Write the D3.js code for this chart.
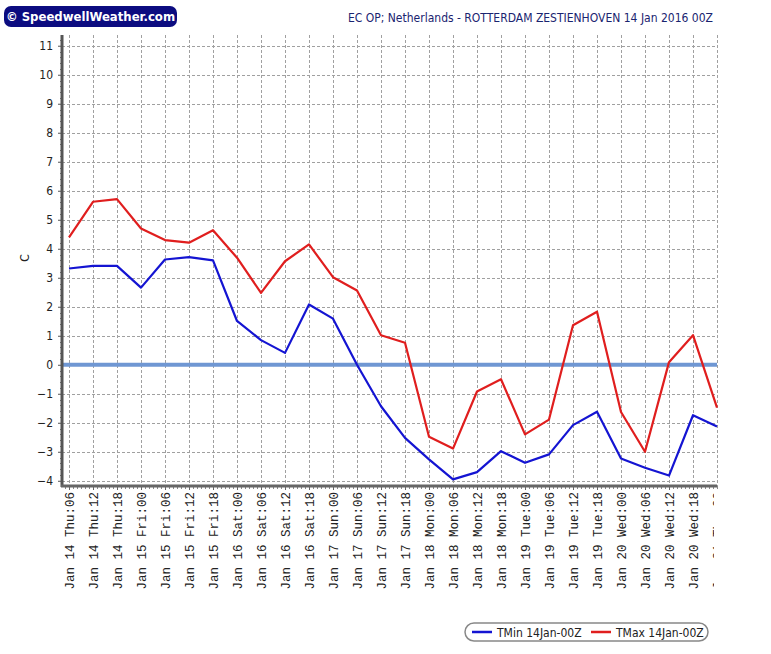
<!DOCTYPE html>
<html>
<head>
<meta charset="utf-8">
<script src="https://cdn.jsdelivr.net/npm/d3@7"></script>
<style>
body { margin: 0; background: #ffffff; }
svg { display: block; }
</style>
</head>
<body>
<div id="chart"></div>
<script>
// forecast steps (6-hourly)
var steps = [
	"Jan 14 Thu:06", "Jan 14 Thu:12", "Jan 14 Thu:18",
	"Jan 15 Fri:00", "Jan 15 Fri:06", "Jan 15 Fri:12", "Jan 15 Fri:18",
	"Jan 16 Sat:00", "Jan 16 Sat:06", "Jan 16 Sat:12", "Jan 16 Sat:18",
	"Jan 17 Sun:00", "Jan 17 Sun:06", "Jan 17 Sun:12", "Jan 17 Sun:18",
	"Jan 18 Mon:00", "Jan 18 Mon:06", "Jan 18 Mon:12", "Jan 18 Mon:18",
	"Jan 19 Tue:00", "Jan 19 Tue:06", "Jan 19 Tue:12", "Jan 19 Tue:18",
	"Jan 20 Wed:00", "Jan 20 Wed:06", "Jan 20 Wed:12", "Jan 20 Wed:18",
	"Jan 21 Thu:00"
];

var tMin = [3.32, 3.41, 3.41, 2.66, 3.63, 3.71, 3.60, 1.51, 0.85, 0.41,
	2.08, 1.59, 0.0, -1.43, -2.52, -3.26, -3.95, -3.70, -2.98,
	-3.38, -3.09, -2.08, -1.62, -3.23, -3.55, -3.82, -1.74, -2.13];

var tMax = [4.39, 5.62, 5.71, 4.70, 4.30, 4.21, 4.64, 3.69, 2.48, 3.57,
	4.15, 3.02, 2.56, 1.02, 0.76, -2.48, -2.89, -0.92, -0.50,
	-2.40, -1.89, 1.36, 1.83, -1.63, -3.0, 0.09, 1.02, -1.48];

var yTicks = [-4, -3, -2, -1, 0, 1, 2, 3, 4, 5, 6, 7, 8, 9, 10, 11];

var seriesNames = ["TMin 14Jan-00Z", "TMax 14Jan-00Z"];
var seriesColors = ["#1414d2", "#e01e1e"];

var titleText = "EC OP; Netherlands - ROTTERDAM ZESTIENHOVEN 14 Jan 2016 00Z";
var logoText = "\u00a9 SpeedwellWeather.com";

var W = 771, H = 654;
var plotLeft = 62, plotRight = 717, plotTop = 35, plotBottom = 486;
var uiFont = "'DejaVu Sans Condensed', 'DejaVu Sans', sans-serif";
var monoFont = "'Liberation Mono', 'DejaVu Sans Mono', monospace";

var svg = d3.select("#chart").append("svg")
	.attr("width", W)
	.attr("height", H)
	.attr("viewBox", "0 0 " + W + " " + H);

var x = d3.scalePoint()
	.domain(steps)
	.range([69, 717]);

var y = d3.scaleLinear()
	.domain([-4.18, 11.37])
	.range([plotBottom, plotTop]);

// logo
svg.append("rect")
	.attr("x", 4).attr("y", 6)
	.attr("width", 173).attr("height", 21)
	.attr("rx", 7)
	.attr("fill", "#0c0c80");
svg.append("text")
	.attr("x", 90.5).attr("y", 21)
	.attr("text-anchor", "middle")
	.attr("font-family", uiFont)
	.attr("font-weight", "bold")
	.attr("font-size", 13)
	.attr("fill", "#ffffff")
	.text(logoText);

// title
svg.append("text")
	.attr("x", 713).attr("y", 22)
	.attr("text-anchor", "end")
	.attr("font-family", uiFont)
	.attr("font-size", 12)
	.attr("fill", "#1a2470")
	.text(titleText);

// grid
var grid = svg.append("g")
	.attr("stroke", "#a0a0a0")
	.attr("stroke-width", 1)
	.attr("stroke-dasharray", "3,2");

grid.selectAll("line.h")
	.data(yTicks)
	.enter().append("line")
	.attr("x1", plotLeft).attr("x2", plotRight)
	.attr("y1", function(d){ return Math.round(y(d)) + 0.5; })
	.attr("y2", function(d){ return Math.round(y(d)) + 0.5; });

grid.selectAll("line.v")
	.data(steps)
	.enter().append("line")
	.attr("x1", function(d){ return Math.round(x(d)) + 0.5; })
	.attr("x2", function(d){ return Math.round(x(d)) + 0.5; })
	.attr("y1", plotTop).attr("y2", plotBottom);

// zero line
svg.append("line")
	.attr("x1", plotLeft).attr("x2", plotRight)
	.attr("y1", y(0)).attr("y2", y(0))
	.attr("stroke", "#6f97d3")
	.attr("stroke-width", 4);

// series
var line = d3.line()
	.x(function(d, i){ return x(steps[i]); })
	.y(function(d){ return y(d); });

[tMin, tMax].forEach(function(values, k){
	svg.append("path")
		.datum(values)
		.attr("d", line)
		.attr("fill", "none")
		.attr("stroke", seriesColors[k])
		.attr("stroke-width", 2.2)
		.attr("stroke-linejoin", "round");
});

// y axis
var yAxis = d3.axisLeft(y)
	.tickValues(yTicks)
	.tickSize(4)
	.tickPadding(5)
	.tickFormat(d3.format("d"));

var gy = svg.append("g")
	.attr("transform", "translate(" + plotLeft + ",0)")
	.call(yAxis);
gy.select(".domain").remove();
gy.selectAll(".tick line").attr("stroke", "#555");
gy.selectAll(".tick text")
	.attr("font-family", uiFont)
	.attr("font-size", 12)
	.attr("fill", "#222");

// minor ticks on y
var yMinor = d3.range(-20, 57).map(function(d){ return d / 5; });
svg.append("g").selectAll("line")
	.data(yMinor)
	.enter().append("line")
	.attr("x1", plotLeft - 2).attr("x2", plotLeft)
	.attr("y1", function(d){ return Math.round(y(d)) + 0.5; })
	.attr("y2", function(d){ return Math.round(y(d)) + 0.5; })
	.attr("stroke", "#777");

// minor ticks on x
var xMinor = d3.range(0, 164);
svg.append("g").selectAll("line")
	.data(xMinor)
	.enter().append("line")
	.attr("x1", function(d){ return 65.5 + d * 4; })
	.attr("x2", function(d){ return 65.5 + d * 4; })
	.attr("y1", plotBottom).attr("y2", plotBottom + 3)
	.attr("stroke", "#888");

// x axis labels (clipped at right edge of plot)
svg.append("clipPath")
	.attr("id", "xclip")
	.append("rect")
	.attr("x", -10).attr("y", -5)
	.attr("width", 724).attr("height", 130);

var xAxis = d3.axisBottom(x)
	.tickSize(4)
	.tickPadding(0);

var gx = svg.append("g")
	.attr("transform", "translate(0," + plotBottom + ")")
	.attr("clip-path", "url(#xclip)")
	.call(xAxis);
gx.select(".domain").remove();
gx.selectAll(".tick line").attr("stroke", "#666");
gx.selectAll(".tick text")
	.attr("font-family", monoFont)
	.attr("font-size", 12.5)
	.attr("fill", "#222")
	.attr("text-anchor", "end")
	.attr("dy", null)
	.attr("y", 0)
	.attr("transform", "translate(4,6) rotate(-90)");

// axis lines
svg.append("line")
	.attr("x1", plotLeft).attr("x2", plotLeft)
	.attr("y1", plotTop).attr("y2", plotBottom + 1)
	.attr("stroke", "#555")
	.attr("stroke-width", 3);
svg.append("line")
	.attr("x1", plotLeft - 1).attr("x2", plotRight)
	.attr("y1", plotBottom).attr("y2", plotBottom)
	.attr("stroke", "#666")
	.attr("stroke-width", 3);

// y label
svg.append("text")
	.attr("transform", "translate(29,258) rotate(-90)")
	.attr("text-anchor", "middle")
	.attr("font-family", uiFont)
	.attr("font-size", 12)
	.attr("fill", "#222")
	.text("C");

// legend
var legend = svg.append("g");
legend.append("rect")
	.attr("x", 465).attr("y", 623)
	.attr("width", 243).attr("height", 18)
	.attr("rx", 9)
	.attr("fill", "#ffffff")
	.attr("stroke", "#888")
	.attr("stroke-width", 1.5);

var legendX = [472, 591];
seriesNames.forEach(function(name, k){
	legend.append("line")
		.attr("x1", legendX[k]).attr("x2", legendX[k] + 20)
		.attr("y1", 632).attr("y2", 632)
		.attr("stroke", seriesColors[k])
		.attr("stroke-width", 2.5);
	legend.append("text")
		.attr("x", legendX[k] + 25).attr("y", 636.5)
		.attr("font-family", uiFont)
		.attr("font-size", 12)
		.attr("fill", "#222")
		.text(name);
});
</script>
</body>
</html>
